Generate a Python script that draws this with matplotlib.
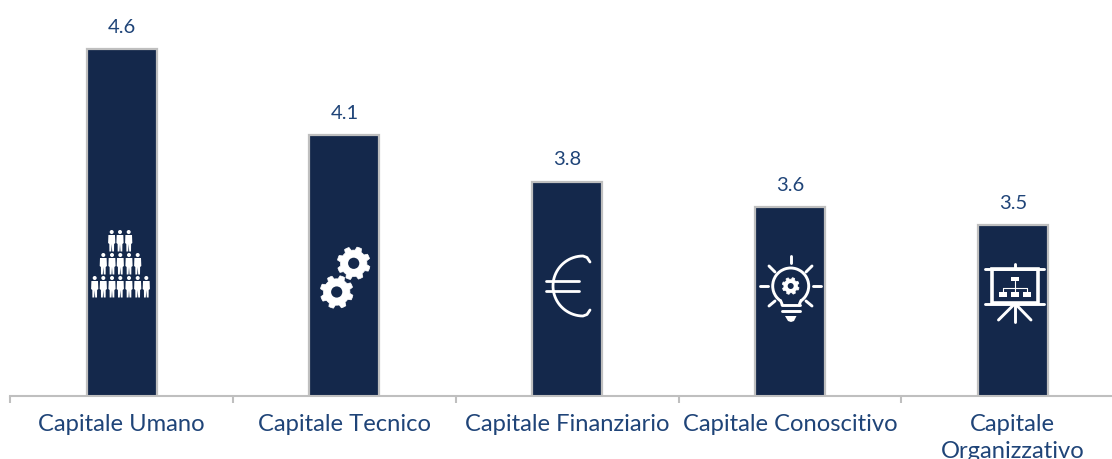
import numpy as np
import matplotlib
matplotlib.use('Agg')
import matplotlib.pyplot as plt
from matplotlib.patches import Arc, Circle, Polygon, Rectangle

categories = ['Capitale Umano', 'Capitale Tecnico', 'Capitale Finanziario',
              'Capitale Conoscitivo', 'Capitale\nOrganizzativo']
values = [4.60, 4.06, 3.77, 3.61, 3.50]

NAVY = '#14284B'
TEXT = '#1F4478'
GREY = '#BFBFBF'
W, H = 1112, 459

plt.rcParams['font.family'] = ['Lato', 'DejaVu Sans']

fig = plt.figure(figsize=(W / 100, H / 100), dpi=100)

# asse: parte da x=10, ogni categoria 222.8 px, base a y=396
ax = fig.add_axes([10.2 / W, (H - 396) / H, 5 * 222.8 / W, 396 / H])
bars = ax.bar(range(len(values)), values, width=0.314, color=NAVY,
              edgecolor=GREY, linewidth=1.6)
ax.bar_label(bars, fmt='%.1f', padding=9.5, fontsize=14.5, color=TEXT)
ax.set_xlim(-0.5, 4.5)
ax.set_ylim(2.43, 2.43 + 396 / 160)
ax.yaxis.set_visible(False)
for side in ['top', 'right', 'left']:
    ax.spines[side].set_visible(False)
ax.spines['bottom'].set_color(GREY)
ax.spines['bottom'].set_linewidth(1.5)

ax.set_xticks(np.arange(-0.5, 5.0, 1.0))
ax.set_xticklabels([])
ax.tick_params(axis='x', which='major', length=5, width=1.5, color=GREY)
ax.set_xticks(range(len(categories)), minor=True)
ax.set_xticklabels(categories, minor=True, fontsize=17.1, color=TEXT, linespacing=1.35)
ax.tick_params(axis='x', which='minor', length=0, pad=13)
for lab in ax.get_xticklabels(minor=True):
    lab.set_verticalalignment('top')

# livello per le icone, in pixel dell'immagine
icons = fig.add_axes([0, 0, 1, 1], facecolor='none')
icons.set_xlim(0, W)
icons.set_ylim(H, 0)
icons.axis('off')


def stroke(x, y, lw=1.9):
    icons.plot(x, y, color='white', lw=lw, solid_capstyle='round')


def person(x, top):
    icons.add_patch(Circle((x, top + 2), 2.0, color='white', lw=0))
    icons.add_patch(Polygon([(x - 3.3, top + 5), (x + 3.3, top + 5), (x + 3.6, top + 13),
                             (x + 2.4, top + 14), (x + 2.3, top + 21.5), (x + 0.5, top + 21.5),
                             (x, top + 14), (x - 0.5, top + 21.5), (x - 2.3, top + 21.5),
                             (x - 2.4, top + 14), (x - 3.6, top + 13)], color='white', lw=0))


def gear(cx, cy, r=16.5, hole=5.6, teeth=8):
    ang = np.linspace(0, 2 * np.pi, teeth * 8, endpoint=False) + 0.2
    rad = np.where((np.arange(teeth * 8) % 8) < 4, r, r * 0.8)
    icons.add_patch(Polygon(np.column_stack([cx + rad * np.cos(ang), cy + rad * np.sin(ang)]),
                            color='white', lw=0.5))
    icons.add_patch(Circle((cx, cy), hole, color=NAVY, lw=0))


# persone
for top, xs in [(230, [111.7, 120, 128.7]),
                (253, [103.3, 112, 120.3, 129, 137.7]),
                (276, [94.7, 103.3, 112, 120.3, 129, 137.7, 146.3])]:
    for x in xs:
        person(x, top)

# ingranaggi
gear(353.7, 263.3)
gear(336.7, 292)

# euro
t = np.radians(np.linspace(90, 270, 40))
arc_x = np.concatenate([[590, 587], 583 + 30 * np.cos(t), [587, 590]])
arc_y = np.concatenate([[262, 257.5], 286 - 30 * np.sin(t), [314.5, 310]])
stroke(arc_x, arc_y, 2.0)
stroke([546, 579.3], [280.7, 280.7], 2.0)
stroke([546, 579.3], [291, 291], 2.0)

# lampadina
icons.add_patch(Arc((790.7, 286), 36, 36, theta1=-235, theta2=55, color='white', lw=2.1))
stroke([780.5, 782, 782], [300.5, 304, 305], 2.1)
stroke([801, 799.5, 799.5], [300.5, 304, 305], 2.1)
stroke([782, 799.5], [305, 305], 2.1)
stroke([782, 799.5], [311, 311], 2.1)
icons.add_patch(Polygon([(785, 316), (796.5, 316), (794, 321), (791, 322), (788, 321)],
                        color='white', lw=0))
gear(790.7, 286, r=8.5, hole=3, teeth=8)
stroke([790.7, 790.7], [256, 263], 2.1)
for x0, y0, x1, y1 in [(769, 266, 775, 272), (812, 266, 806, 272), (760, 285.5, 768, 285.5),
                       (821, 285.5, 813, 285.5), (769, 306, 775, 301), (812, 306, 806, 301)]:
    stroke([x0, x1], [y0, y1], 2.1)

# lavagna con organigramma
stroke([985, 1044], [268.5, 268.5], 2.1)
stroke([985, 1044], [303.5, 303.5], 2.1)
stroke([1015, 1015], [264, 268], 2.1)
icons.add_patch(Rectangle((991.5, 269), 46, 34, fill=False, ec='white', lw=2.6))
stroke([1015, 998.5], [303.5, 320], 2.1)
stroke([1015, 1015], [303.5, 322], 2.1)
stroke([1015, 1031], [303.5, 320], 2.1)
for x0, y0, w in [(1010.7, 276.7, 8), (999.3, 292.3, 8), (1010.7, 292.3, 8), (1022.7, 292.3, 8)]:
    icons.add_patch(Rectangle((x0, y0), w, 4.3, color='white', lw=0))
stroke([1015, 1015], [281, 292], 0.8)
stroke([1003.3, 1026.7], [287.7, 287.7], 0.8)
stroke([1003.3, 1003.3], [287.7, 292], 0.8)
stroke([1026.7, 1026.7], [287.7, 292], 0.8)

fig.savefig('out.png', dpi=100)
